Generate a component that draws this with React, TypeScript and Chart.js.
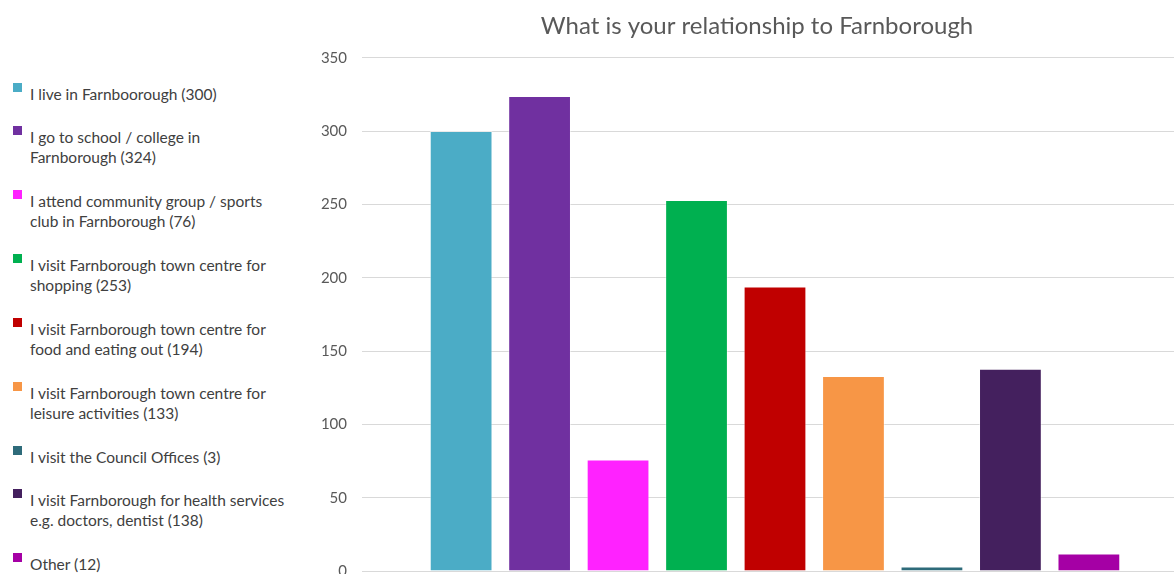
import React, { useEffect, useRef } from "react";
import { Chart, registerables } from "chart.js";

Chart.register(...registerables);

const chartTitle = "What is your relationship to Farnborough";
const categoryLabels = [
  "I live in Farnboorough (300)",
  "I go to school / college in\nFarnborough (324)",
  "I attend community group / sports\nclub in Farnborough (76)",
  "I visit Farnborough town centre for\nshopping (253)",
  "I visit Farnborough town centre for\nfood and eating out (194)",
  "I visit Farnborough town centre for\nleisure activities (133)",
  "I visit the Council Offices (3)",
  "I visit Farnborough for health services\ne.g. doctors, dentist (138)",
  "Other (12)",
];
const seriesValues = [300, 324, 76, 253, 194, 133, 3, 138, 12];
const seriesColors = [
  "#4BACC6",
  "#7030A0",
  "#FF22FF",
  "#00B050",
  "#C00000",
  "#F79646",
  "#2E6B7A",
  "#44205E",
  "#A500A5",
];
const yTicks = [0, 50, 100, 150, 200, 250, 300, 350];

const FONT = "Lato, 'Open Sans', sans-serif";

export default function App() {
  const canvasRef = useRef<HTMLCanvasElement | null>(null);

  useEffect(() => {
    const canvas = canvasRef.current;
    if (!canvas) return;
    const chart = new Chart(canvas, {
      type: "bar",
      data: {
        labels: [""],
        datasets: categoryLabels.map((label, i) => ({
          label: label.replace("\n", " "),
          data: [seriesValues[i]],
          backgroundColor: seriesColors[i],
          borderColor: "rgba(255,255,255,0.45)",
          borderWidth: 1,
          categoryPercentage: 0.855,
          barPercentage: 0.8,
        })),
      },
      options: {
        animation: false,
        responsive: true,
        maintainAspectRatio: false,
        layout: { padding: { top: 0, bottom: 19, left: 0, right: 0 } },
        plugins: {
          legend: { display: false },
          tooltip: { enabled: false },
          title: {
            display: true,
            text: chartTitle,
            color: "#595959",
            font: { family: FONT, size: 24, weight: "normal" },
            padding: { top: 12, bottom: 17 },
          },
        },
        scales: {
          x: { display: false },
          y: {
            position: "left",
            min: yTicks[0],
            max: yTicks[yTicks.length - 1],
            afterFit: (scale: any) => {
              scale.width = 62;
            },
            afterBuildTicks: (scale: any) => {
              scale.ticks = yTicks.map((v) => ({ value: v }));
            },
            border: { display: false },
            grid: { color: "#D9D9D9", lineWidth: 1, drawTicks: false },
            ticks: {
              color: "#595959",
              padding: 15,
              font: { family: FONT, size: 15 },
            },
          },
          yRight: {
            position: "right",
            display: true,
            min: yTicks[0],
            max: yTicks[yTicks.length - 1],
            afterFit: (scale: any) => {
              scale.width = 26;
            },
            border: { display: false },
            grid: { display: false },
            ticks: { display: false },
          },
        },
      },
    });
    return () => chart.destroy();
  }, []);

  return (
    <div
      style={{
        position: "absolute",
        left: 0,
        top: 0,
        width: 1174,
        height: 574,
        overflow: "hidden",
        background: "#ffffff",
      }}
    >
      <div
        style={{
          position: "absolute",
          left: 0,
          top: 84,
          width: 320,
          fontFamily: FONT,
          fontSize: 15.5,
          color: "#404040",
        }}
      >
        {categoryLabels.map((label, i) => {
          const lines = label.split("\n").length;
          return (
            <div
              key={i}
              style={{
                position: "relative",
                paddingLeft: 30,
                lineHeight: "20px",
                height: lines * 20,
                marginBottom: 23 + (lines - 1),
                whiteSpace: "pre-line",
              }}
            >
              <span
                style={{
                  position: "absolute",
                  left: 13,
                  top: -1,
                  width: 9,
                  height: 9,
                  background: seriesColors[i],
                }}
              />
              {label}
            </div>
          );
        })}
      </div>
      <div
        style={{
          position: "absolute",
          left: 300,
          top: 0,
          width: 914,
          height: 595,
        }}
      >
        <canvas ref={canvasRef} />
      </div>
    </div>
  );
}
